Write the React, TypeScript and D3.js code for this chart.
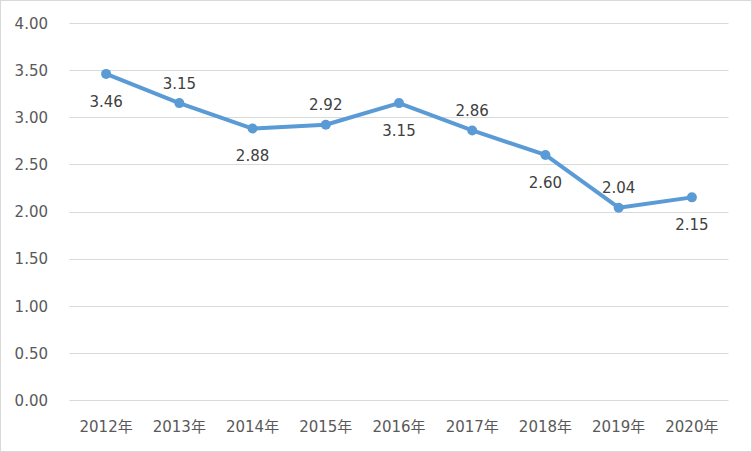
import React from "react";
import * as d3 from "d3";

const categories = ["2012年", "2013年", "2014年", "2015年", "2016年", "2017年", "2018年", "2019年", "2020年"];
const values = [3.46, 3.15, 2.88, 2.92, 3.15, 2.86, 2.6, 2.04, 2.15];
const labelAbove = [false, true, false, true, false, true, false, true, false];
const yTicks = [0, 0.5, 1, 1.5, 2, 2.5, 3, 3.5, 4];

const W = 752;
const H = 452;
const FONT = "'DejaVu Sans', 'Noto Sans CJK SC', sans-serif";

export default function App() {
  const x = d3.scaleBand<string>().domain(categories).range([69.5, 728.5]);
  const y = d3.scaleLinear().domain([0, 4]).range([400, 23]);
  const cx = (c: string) => (x(c) as number) + x.bandwidth() / 2;
  const line = d3
    .line<number>()
    .x((_, i) => cx(categories[i]))
    .y((d) => y(d));

  return (
    <svg
      width={W}
      height={H}
      style={{ position: "absolute", left: 0, top: 0, background: "#fff" }}
      fontFamily={FONT}
    >
      <rect x={0} y={0} width={W} height={H} fill="#fff" />
      {yTicks.map((t) => (
        <g key={t}>
          <line x1={69.5} x2={728.5} y1={Math.round(y(t)) + 0.5} y2={Math.round(y(t)) + 0.5} stroke="#d9d9d9" strokeWidth={1} />
          <text x={48} y={y(t) + 5.8} textAnchor="end" fontSize={15} fill="#595959">
            {t.toFixed(2)}
          </text>
        </g>
      ))}
      {categories.map((c) => (
        <text key={c} x={cx(c)} y={431.5} textAnchor="middle" fontSize={15} fill="#595959">
          {c}
        </text>
      ))}
      <path d={line(values) || ""} fill="none" stroke="#5B9BD5" strokeWidth={4} strokeLinejoin="round" strokeLinecap="round" />
      {values.map((v, i) => (
        <circle key={i} cx={cx(categories[i])} cy={y(v)} r={5} fill="#5B9BD5" />
      ))}
      {values.map((v, i) => (
        <text
          key={"l" + i}
          x={cx(categories[i])}
          y={labelAbove[i] ? y(v) - 14.6 : y(v) + 32.8}
          textAnchor="middle"
          fontSize={15}
          fill="#404040"
        >
          {v.toFixed(2)}
        </text>
      ))}
      <rect x={0.5} y={0.5} width={W - 1} height={H - 1} fill="none" stroke="#d9d9d9" strokeWidth={1} />
    </svg>
  );
}
